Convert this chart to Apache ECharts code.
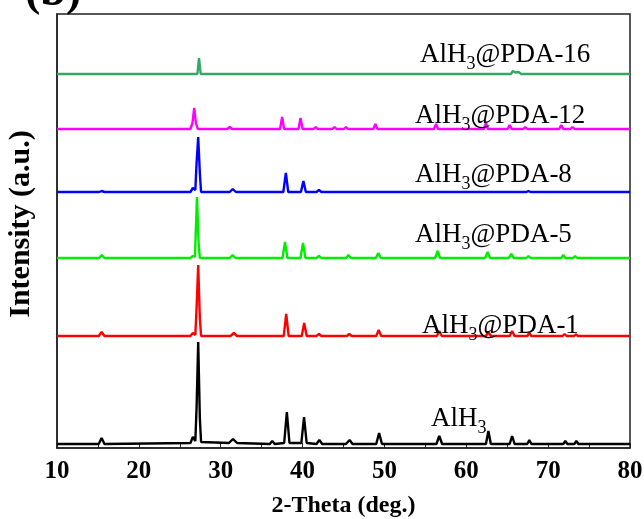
<!DOCTYPE html>
<html>
<head>
<meta charset="utf-8">
<script src="https://cdn.jsdelivr.net/npm/echarts@6/dist/echarts.min.js"></script>
<style>html,body{margin:0;padding:0;background:#fff}#c{width:644px;height:519px}</style>
</head>
<body>
<div id="c"></div>
<script>
// 2-Theta tick labels
var xTicks = [10, 20, 30, 40, 50, 60, 70, 80];
var seriesNames = ['AlH3', 'AlH3@PDA-1', 'AlH3@PDA-5', 'AlH3@PDA-8', 'AlH3@PDA-12', 'AlH3@PDA-16'];
var seriesColors = ['#000000', '#ff0000', '#00ee00', '#0000ff', '#ff00ff', '#33a862'];

// [2-Theta, intensity (a.u., stacked with offset)]
var alh3 = [[10,4],[15.1,4],[15.45,10],[15.8,4],[26.3,5],[26.6,11],[26.9,7],[27.05,40],[27.25,106],[27.45,30],[27.6,6],[31.0,5],[31.5,9],[32.0,5],[36.0,4],[36.3,7],[36.6,4],[37.75,5],[38.08,36],[38.4,5],[39.85,5],[40.18,31],[40.5,5],[41.7,4],[42.05,8],[42.4,4],[45.3,4],[45.75,8],[46.1,4],[49.0,4],[49.35,15],[49.7,4],[56.35,4],[56.7,12],[57.05,4],[62.4,4],[62.7,17],[63.0,4],[65.3,4],[65.6,12],[65.9,4],[67.45,4],[67.7,8],[67.95,4],[71.85,4],[72.1,7],[72.35,4],[73.2,4],[73.45,7],[73.7,4],[80,4]];
var pda1 = [[10,112],[15.1,112],[15.45,116],[15.8,112],[26.3,112],[26.6,115],[26.9,113],[27.05,140],[27.25,183],[27.45,130],[27.6,112],[31.2,112],[31.6,115],[32.0,112],[37.7,112],[38.0,134],[38.3,112],[39.9,112],[40.2,125],[40.5,112],[41.7,112],[42.0,114],[42.3,112],[44.2,112],[44.4,113],[44.6,112],[45.4,112],[45.7,114],[46.0,112],[49.0,112],[49.3,118],[49.6,112],[56.4,112],[56.7,117],[57.0,112],[62.4,112],[62.7,116],[63.0,112],[65.3,112],[65.6,117],[65.9,112],[67.45,112],[67.7,115],[67.95,112],[71.75,112],[72.0,114],[72.25,112],[73.15,112],[73.4,113.5],[73.65,112],[80,112]];
var pda5 = [[10,190],[15.15,190],[15.47,193],[15.8,190],[26.3,190],[26.6,192],[26.85,191],[26.95,215],[27.1,251],[27.3,205],[27.45,190],[31.1,190],[31.45,193],[31.8,190],[37.55,190],[37.85,206],[38.15,190],[39.75,190],[40.05,205],[40.35,190],[41.7,190],[42.0,192],[42.3,190],[45.3,190],[45.6,193],[45.9,190],[48.95,190],[49.25,195],[49.55,190],[56.2,190],[56.5,197],[56.8,190],[62.3,190],[62.6,196],[62.9,190],[65.2,190],[65.5,194],[65.8,190],[67.35,190],[67.6,192],[67.85,190],[71.6,190],[71.85,193],[72.1,190],[73.05,190],[73.3,192],[73.55,190],[80,190]];
var pda8 = [[10,256],[15.15,256],[15.47,257],[15.8,256],[26.3,256],[26.6,260],[26.9,258],[27.05,285],[27.25,311],[27.45,275],[27.6,256],[31.1,256],[31.47,259],[31.85,256],[37.65,256],[37.96,275],[38.25,256],[39.8,256],[40.1,267],[40.4,256],[41.7,256],[42.0,258],[42.3,256],[67.35,256],[67.6,257],[67.85,256],[80,256]];
var pda12 = [[10,319],[26.3,319],[26.55,325],[26.76,340],[26.97,325],[27.2,319],[30.8,319],[31.1,321],[31.4,319],[37.25,319],[37.5,331],[37.75,319],[39.5,319],[39.75,330],[40.0,319],[41.35,319],[41.6,321],[41.85,319],[43.65,319],[43.9,321],[44.15,319],[45.05,319],[45.3,321],[45.55,319],[48.65,319],[48.9,324],[49.15,319],[56.05,319],[56.3,324],[56.55,319],[62.15,319],[62.4,325],[62.65,319],[65.05,319],[65.3,323],[65.55,319],[66.95,319],[67.2,321],[67.45,319],[71.35,319],[71.6,323],[71.85,319],[72.72,319],[72.97,321],[73.22,319],[80,319]];
var pda16 = [[10,374],[27.15,374],[27.25,382],[27.35,390],[27.45,382],[27.55,374],[38.0,374],[38.2,376],[38.4,374],[65.45,374],[65.7,377],[66.0,375.5],[66.4,376],[66.7,374],[80,374]];

var seriesData = [alh3, pda1, pda5, pda8, pda12, pda16];

var chart = echarts.init(document.getElementById('c'));
var serif = "'Liberation Serif', 'Times New Roman', serif";

function lbl(main, tail, x, y) {
  return {
    type: 'text', left: x, top: y, z: 100,
    style: {
      text: '{a|' + main + '}{s|3}{a|' + tail + '}',
      rich: {
        a: { fontFamily: serif, fontSize: 27, color: '#111', verticalAlign: 'middle' },
        s: { fontFamily: serif, fontSize: 18, color: '#111', padding: [20, 0, 0, 0] }
      }
    }
  };
}

var option = {
  animation: false,
  backgroundColor: '#fff',
  grid: { left: 57, right: 14, top: 14, bottom: 71, containLabel: false, outerBoundsMode: 'none',
    show: true, borderColor: '#222', borderWidth: 1.5 },
  xAxis: {
    type: 'value', min: 10, max: 80, interval: 5,
    name: '2-Theta (deg.)', nameLocation: 'middle', nameGap: 46,
    nameTextStyle: { fontFamily: serif, fontWeight: 'bold', fontSize: 24, color: '#000' },
    axisLine: { lineStyle: { color: '#222', width: 1.5 } },
    axisTick: { inside: true, length: 5, lineStyle: { color: '#222', width: 1 } },
    axisLabel: { interval: 1, margin: 11, fontFamily: serif, fontWeight: 'bold', fontSize: 25, color: '#000',
      formatter: function (v) { return xTicks.indexOf(v) >= 0 ? String(v) : ''; } },
    splitLine: { show: false }
  },
  yAxis: {
    type: 'value', min: 0, max: 434,
    name: 'Intensity (a.u.)', nameLocation: 'middle', nameGap: 21,
    nameTextStyle: { fontFamily: serif, fontWeight: 'bold', fontSize: 30, color: '#000', padding: [0, 0, 0, 14] },
    axisLine: { show: true, lineStyle: { color: '#222', width: 1.5 } },
    axisTick: { show: false }, axisLabel: { show: false }, splitLine: { show: false }
  },
  series: seriesData.map(function (d, i) {
    return { name: seriesNames[i], type: 'line', data: d, showSymbol: false, symbol: 'none',
      lineStyle: { color: seriesColors[i], width: 2.4 }, z: 2 + i };
  }),
  graphic: [
    { type: 'text', left: 25, top: -30, style: { text: '(b)', fontFamily: serif, fontWeight: 'bold', fontSize: 46, fill: '#000' } },
    lbl('AlH', '@PDA-16', 420, 41),
    lbl('AlH', '@PDA-12', 415, 102),
    lbl('AlH', '@PDA-8', 415, 161),
    lbl('AlH', '@PDA-5', 415, 221),
    lbl('AlH', '@PDA-1', 422, 312),
    { type: 'text', left: 431, top: 405, z: 100, style: {
      text: '{a|AlH}{s|3}',
      rich: { a: { fontFamily: serif, fontSize: 27, color: '#111' }, s: { fontFamily: serif, fontSize: 18, color: '#111', padding: [20, 0, 0, 0] } } } }
  ]
};
chart.setOption(option);
</script>
</body>
</html>
